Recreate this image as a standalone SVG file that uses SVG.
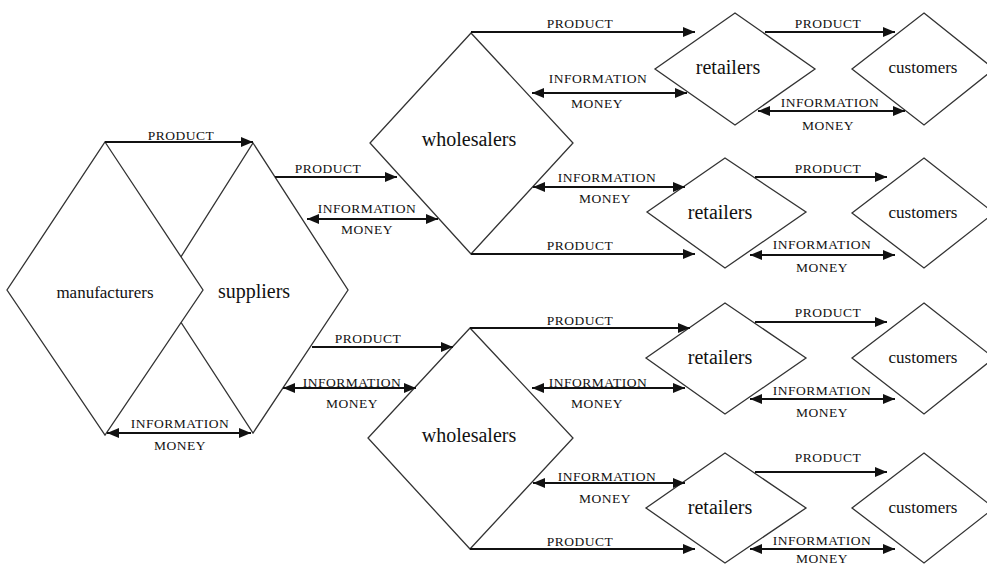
<svg xmlns="http://www.w3.org/2000/svg" width="987" height="565" viewBox="0 0 987 565">
<style>
.d{fill:#fff;stroke:#333;stroke-width:1.3}
.n{font-family:"Liberation Serif","Times New Roman",serif;fill:#111;text-anchor:middle}
.big{font-size:20px}
.sm{font-size:17px}
.l{font-family:"Liberation Serif","Times New Roman",serif;font-size:13.5px;letter-spacing:0.5px;fill:#111;text-anchor:middle}
.a{stroke:#111;stroke-width:1.8;fill:none;marker-end:url(#ah)}
.b{stroke:#111;stroke-width:1.8;fill:none;marker-end:url(#ah);marker-start:url(#ah)}
</style>
<defs>
<marker id="ah" viewBox="0 0 12 10" refX="12" refY="5" markerWidth="12" markerHeight="10" markerUnits="userSpaceOnUse" orient="auto-start-reverse"><path d="M0,0 L12,5 L0,10 z" fill="#111"/></marker>
</defs>
<rect width="987" height="565" fill="#fff"/>
<g id="suppliers"><polygon class="d" points="253,143 348,290 253,433 160,290"/><text class="n big" x="254" y="298">suppliers</text></g>
<g id="manufacturers"><polygon class="d" points="105,142 203,290 105,435 7,290"/><text class="n sm" x="105" y="298">manufacturers</text></g>
<g id="wholesalers1"><polygon class="d" points="471,33 573,143 471,254 370,143"/><text class="n big" x="469" y="146">wholesalers</text></g>
<g id="wholesalers2"><polygon class="d" points="470,328 573,438 470,549 368,438"/><text class="n big" x="469" y="442">wholesalers</text></g>
<g id="retailers1"><polygon class="d" points="735,13 815,69 735,125 655,69"/><text class="n big" x="728" y="74">retailers</text></g>
<g id="retailers2"><polygon class="d" points="725,158 806,212 725,268 647,212"/><text class="n big" x="720" y="219">retailers</text></g>
<g id="retailers3"><polygon class="d" points="725,303 806,358 725,414 646,358"/><text class="n big" x="720" y="364">retailers</text></g>
<g id="retailers4"><polygon class="d" points="725,453 806,508 725,563 646,508"/><text class="n big" x="720" y="514">retailers</text></g>
<g id="customers1"><polygon class="d" points="924,13 994,69 924,125 852,69"/><text class="n sm" x="923" y="73">customers</text></g>
<g id="customers2"><polygon class="d" points="924,158 994,213 924,268 852,213"/><text class="n sm" x="923" y="218">customers</text></g>
<g id="customers3"><polygon class="d" points="924,303 994,358 924,414 852,358"/><text class="n sm" x="923" y="363">customers</text></g>
<g id="customers4"><polygon class="d" points="924,453 994,508 924,563 852,508"/><text class="n sm" x="923" y="513">customers</text></g>
<g id="connectors">
<line class="a" x1="105" y1="142" x2="253" y2="142"/>
<line class="b" x1="107" y1="433" x2="251" y2="433"/>
<line class="a" x1="275" y1="177" x2="397" y2="177"/>
<line class="b" x1="307" y1="219" x2="438" y2="219"/>
<line class="a" x1="471" y1="32" x2="695" y2="32"/>
<line class="b" x1="532" y1="93" x2="687" y2="93"/>
<line class="b" x1="533" y1="187" x2="685" y2="187"/>
<line class="a" x1="471" y1="254" x2="695" y2="254"/>
<line class="a" x1="765" y1="32" x2="895" y2="32"/>
<line class="b" x1="758" y1="111" x2="905" y2="111"/>
<line class="a" x1="755" y1="177" x2="887" y2="177"/>
<line class="b" x1="750" y1="255" x2="895" y2="255"/>
<line class="a" x1="312" y1="347" x2="453" y2="347"/>
<line class="b" x1="283" y1="388" x2="416" y2="388"/>
<line class="a" x1="470" y1="328" x2="690" y2="328"/>
<line class="b" x1="532" y1="388" x2="685" y2="388"/>
<line class="b" x1="533" y1="483" x2="685" y2="483"/>
<line class="a" x1="470" y1="549" x2="695" y2="549"/>
<line class="a" x1="755" y1="322" x2="887" y2="322"/>
<line class="b" x1="750" y1="399" x2="895" y2="399"/>
<line class="a" x1="755" y1="472" x2="887" y2="472"/>
<line class="b" x1="750" y1="549" x2="895" y2="549"/>
<text class="l" x="181" y="140">PRODUCT</text>
<text class="l" x="180" y="428">INFORMATION</text>
<text class="l" x="180" y="450">MONEY</text>
<text class="l" x="328" y="173">PRODUCT</text>
<text class="l" x="367" y="213">INFORMATION</text>
<text class="l" x="367" y="234">MONEY</text>
<text class="l" x="580" y="28">PRODUCT</text>
<text class="l" x="598" y="83">INFORMATION</text>
<text class="l" x="597" y="108">MONEY</text>
<text class="l" x="607" y="182">INFORMATION</text>
<text class="l" x="605" y="203">MONEY</text>
<text class="l" x="580" y="250">PRODUCT</text>
<text class="l" x="828" y="28">PRODUCT</text>
<text class="l" x="830" y="107">INFORMATION</text>
<text class="l" x="828" y="130">MONEY</text>
<text class="l" x="828" y="173">PRODUCT</text>
<text class="l" x="822" y="249">INFORMATION</text>
<text class="l" x="822" y="272">MONEY</text>
<text class="l" x="368" y="343">PRODUCT</text>
<text class="l" x="352" y="387">INFORMATION</text>
<text class="l" x="352" y="408">MONEY</text>
<text class="l" x="580" y="325">PRODUCT</text>
<text class="l" x="598" y="387">INFORMATION</text>
<text class="l" x="597" y="408">MONEY</text>
<text class="l" x="607" y="481">INFORMATION</text>
<text class="l" x="605" y="503">MONEY</text>
<text class="l" x="580" y="546">PRODUCT</text>
<text class="l" x="828" y="317">PRODUCT</text>
<text class="l" x="822" y="395">INFORMATION</text>
<text class="l" x="822" y="417">MONEY</text>
<text class="l" x="828" y="462">PRODUCT</text>
<text class="l" x="822" y="545">INFORMATION</text>
<text class="l" x="822" y="563">MONEY</text>
</g>
</svg>
